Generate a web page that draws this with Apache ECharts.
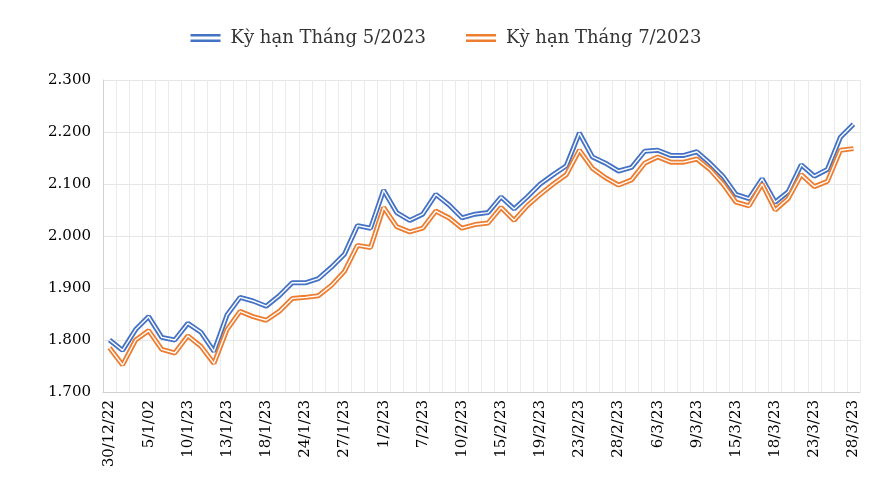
<!DOCTYPE html>
<html>
<head>
<meta charset="UTF-8">
<script src="https://cdn.jsdelivr.net/npm/echarts@6/dist/echarts.min.js"></script>
<style>body{margin:0}#c{width:892px;height:504px}</style>
</head>
<body>
<div id="c"></div>
<script>
var labels = ['30/12/22','5/1/02','10/1/23','13/1/23','18/1/23','24/1/23','27/1/23','1/2/23','7/2/23','10/2/23',
  '15/2/23','19/2/23','23/2/23','28/2/23','6/3/23','9/3/23','15/3/23','18/3/23','23/3/23','28/3/23'];
var may = [1800,1780,1820,1845,1805,1800,1832,1815,1778,1848,1882,1875,1865,1885,1910,1910,1918,1940,1965,2020,
  2015,2088,2045,2030,2042,2080,2060,2035,2042,2045,2075,2052,2075,2100,2118,2135,2198,2152,2140,2125,
  2132,2163,2165,2155,2155,2162,2140,2115,2080,2072,2110,2065,2085,2137,2115,2128,2190,2215];
var jul = [1785,1752,1800,1818,1782,1775,1808,1788,1755,1820,1855,1845,1838,1855,1880,1882,1885,1905,1932,1982,
  1978,2055,2018,2008,2015,2048,2035,2015,2022,2025,2055,2030,2058,2080,2100,2118,2165,2130,2112,2098,
  2108,2140,2152,2142,2142,2148,2128,2100,2065,2058,2100,2050,2072,2118,2095,2105,2165,2168];
var names = ['Kỳ hạn Tháng 5/2023','Kỳ hạn Tháng 7/2023'];
var colors = ['#4472c4','#ed7d31'];

// one category per day, label on every third
var cats = may.map(function (v, i) { return i % 3 === 0 ? labels[i / 3] : ''; });

var myChart = echarts.init(document.getElementById('c'));
var series = [];
[may, jul].forEach(function (d, k) {
  series.push({ name: names[k], type: 'line', data: d, symbol: 'none', z: 2 + k * 2,
    lineStyle: { color: colors[k], width: 5 }, itemStyle: { color: colors[k] } });
  series.push({ name: names[k] + ' ', type: 'line', data: d, symbol: 'none', z: 3 + k * 2,
    lineStyle: { color: '#fff', width: 1.4 }, silent: true });
});
myChart.setOption({
  animation: false,
  legend: {
    data: names, top: 24, left: 'center', itemGap: 40, itemWidth: 40, itemHeight: 8,
    icon: 'path://M0,0H30V2.5H0Z M0,5.5H30V8H0Z',
    textStyle: { fontFamily: 'DejaVu Serif', fontSize: 18, color: '#333' }
  },
  grid: { left: 103, right: 32, top: 80, bottom: 112 },
  xAxis: {
    type: 'category', data: cats, boundaryGap: true,
    axisLine: { lineStyle: { color: '#d0d0d0' } },
    axisTick: { show: false },
    splitLine: { show: true, interval: 0, lineStyle: { color: '#ebebeb' } },
    axisLabel: { interval: 0, rotate: 90, fontFamily: 'DejaVu Serif', fontSize: 15, color: '#000' }
  },
  yAxis: {
    type: 'value', min: 1700, max: 2300, interval: 100,
    axisLine: { show: true, lineStyle: { color: '#d0d0d0' } },
    splitLine: { lineStyle: { color: '#e6e6e6' } },
    axisLabel: { fontFamily: 'DejaVu Serif', fontSize: 15, color: '#000', margin: 12,
      formatter: function (v) { return (v / 1000).toFixed(3); } }
  },
  series: series
});
</script>
</body>
</html>
